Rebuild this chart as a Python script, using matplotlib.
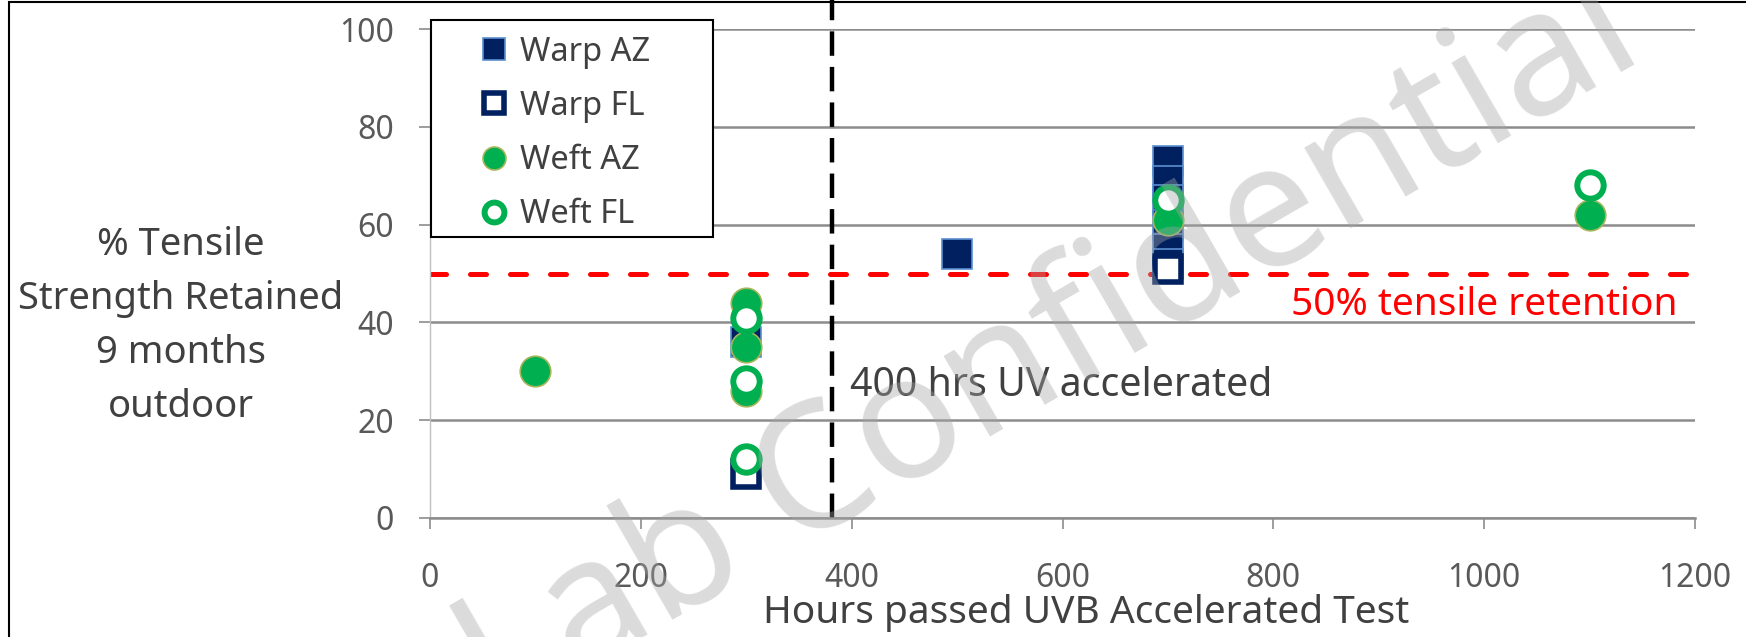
import matplotlib
matplotlib.use("Agg")
import matplotlib.pyplot as plt
from matplotlib.patches import Rectangle

plt.rcParams['font.family'] = ['Noto Sans', 'DejaVu Sans']

# data
warp_az_x = [300, 500, 700, 700, 700, 700, 700, 700]
warp_az_y = [36, 54, 73, 69, 65, 60, 55, 52]
warp_fl_x = [300, 700]
warp_fl_y = [9, 51]
weft_az_x = [100, 300, 300, 300, 700, 1100]
weft_az_y = [30, 44, 35, 26, 61, 62]
weft_fl_x = [300, 300, 300, 700, 1100]
weft_fl_y = [41, 28, 12, 65, 68]

threshold = 50
uv_hours = 381
x_ticks = [0, 200, 400, 600, 800, 1000, 1200]
y_ticks = [0, 20, 40, 60, 80, 100]

txt = '#404040'
grid = '#8c8c8c'

fig = plt.figure(figsize=(17.46, 6.37), dpi=100)
ax = fig.add_axes([430/1746, 1-518/637, 1265/1746, 489/637])

ax.set_xlim(0, 1200)
ax.set_ylim(0, 100)
ax.set_xticks(x_ticks)
ax.set_yticks(y_ticks)
ax.yaxis.grid(True, color=grid, lw=1.8)
ax.set_axisbelow(True)
for s in ['top', 'right']:
    ax.spines[s].set_visible(False)
ax.spines['left'].set_color('#bfbfbf')
ax.spines['left'].set_linewidth(1.0)
ax.spines['bottom'].set_color(grid)
ax.spines['bottom'].set_linewidth(1.8)
ax.tick_params(axis='x', direction='out', length=8, width=1.2, color=grid,
               labelsize=23, labelcolor='#595959', pad=24)
ax.tick_params(axis='y', direction='out', length=8, width=1.2, color=grid,
               labelsize=23, labelcolor='#595959', pad=18)

# markers
ax.plot(warp_az_x, warp_az_y, ls='none', marker='s', ms=22, mfc='#002060',
        mec='#5b8fd0', mew=1.2, label='Warp AZ', zorder=3)
ax.plot(warp_fl_x, warp_fl_y, ls='none', marker='s', ms=19, mfc='white',
        mec='#002060', mew=4, label='Warp FL', zorder=4)
ax.plot(weft_az_x, weft_az_y, ls='none', marker='o', ms=22, mfc='#00b050',
        mec='#a5b55a', mew=1.2, label='Weft AZ', zorder=5)
ax.plot(weft_fl_x, weft_fl_y, ls='none', marker='o', ms=19, mfc='white',
        mec='#00b050', mew=4.3, label='Weft FL', zorder=6)

# reference lines
ax.axhline(threshold, color='#ff0000', lw=3.6, dashes=(3.2, 4.8),
           dash_capstyle='round', zorder=2.5)
ax.axvline(uv_hours, ymin=0, ymax=1.06, color='black', lw=3.2,
           dashes=(5.5, 2.5), clip_on=False, zorder=2.5)

ax.text(398, 27, '400 hrs UV accelerated', fontsize=28.3, color=txt,
        ha='left', va='center')
ax.text(1183, 43.6, '50% tensile retention', fontsize=28, color='#ff0000',
        ha='right', va='center')

ax.set_xlabel('Hours passed UVB Accelerated Test', fontsize=28, color=txt,
              ha='center', va='center')
ax.xaxis.set_label_coords(0.5186, -0.195)
ax.set_ylabel('% Tensile\nStrength Retained\n9 months\noutdoor', fontsize=27.5,
              color=txt, rotation=0, ha='center', va='center', linespacing=1.55)
ax.yaxis.set_label_coords(-0.197, 0.392)

# legend, frame drawn separately so the padding matches
leg = ax.legend(loc='upper left', bbox_to_anchor=(0.0245, 1.02), borderaxespad=0,
                fontsize=23.5, markerscale=0.75, frameon=False,
                handlelength=1.0, handletextpad=0.3, labelspacing=0.65,
                borderpad=0.5, labelcolor=txt)
leg.set_zorder(7)
ax.add_patch(Rectangle((0.0008, 0.5746), 0.2229, 0.4438, transform=ax.transAxes,
                       facecolor='white', edgecolor='black', lw=1.5,
                       clip_on=False, zorder=6.5))

# watermark
fig.text(0.601, 0.451, 'Lab Confidential', fontsize=125, color='#a6a6a6',
         alpha=0.4, rotation=30, ha='center', va='center', zorder=10)

fig.patches.append(Rectangle((0.005, -0.05), 1.2, 1.047, transform=fig.transFigure,
                             fill=False, ec='black', lw=1.5))

fig.savefig('out.png', dpi=100)
